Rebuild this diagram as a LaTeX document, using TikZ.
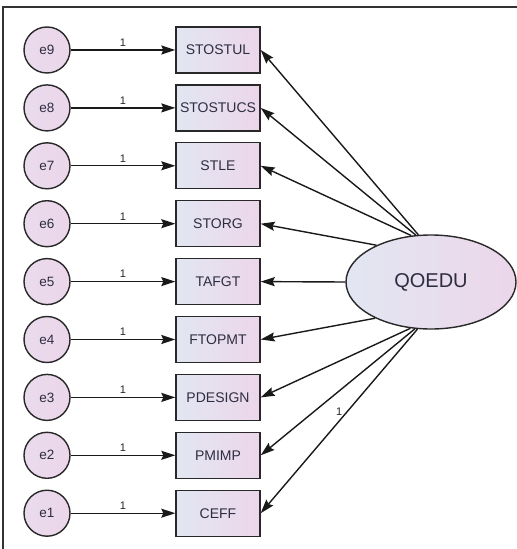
\documentclass[tikz,border=0pt]{standalone}
\usepackage{fontspec}
\setmainfont{Liberation Sans}
\usetikzlibrary{arrows.meta,shapes.geometric}
\definecolor{lineC}{RGB}{40,40,40}
\definecolor{txtC}{RGB}{45,45,65}
\definecolor{fillL}{RGB}{226,230,242}
\definecolor{fillR}{RGB}{236,214,234}
\tikzset{
  errnode/.style={circle,draw=lineC,line width=1.4bp,minimum size=46bp,inner sep=0pt,
    left color=fillR!70!fillL,right color=fillR,text=txtC,font=\fontsize{13.5bp}{15bp}\selectfont},
  obsnode/.style={rectangle,draw=lineC,line width=1.4bp,minimum width=84bp,minimum height=46bp,inner sep=0pt,
    left color=fillL,right color=fillR,text=txtC,font=\fontsize{14bp}{15bp}\selectfont},
  latnode/.style={ellipse,draw=lineC,line width=1.4bp,minimum width=170bp,minimum height=94bp,inner sep=0pt,
    left color=fillL,right color=fillR,text=txtC,font=\fontsize{20bp}{22bp}\selectfont},
  conn/.style={draw=black!90,line width=1.4bp,-{Stealth[length=14bp,width=9bp,inset=2bp]}},
  wlab/.style={font=\fontsize{11bp}{12bp}\selectfont,text=black!85,inner sep=1bp},
  frame/.style={draw=black!80,line width=1.8bp}
}
\begin{document}
\begin{tikzpicture}[x=1bp,y=-1bp]
\useasboundingbox (0,0) rectangle (517,549);
\coordinate (fa) at (3,549);
\coordinate (fb) at (3,7);
\coordinate (fc) at (517,7);
\draw[frame] (fa) -- (fb) -- (fc);

\node[latnode] (q) at (431,282) {QOEDU};

\foreach \i/\name [count=\k from 0] in {9/STOSTUL,8/STOSTUCS,7/STLE,6/STORG,5/TAFGT,4/FTOPMT,3/PDESIGN,2/PMIMP,1/CEFF}{
  \node[errnode] (e\i) at (47,{50+57.9*\k}) {e\i};
  \node[obsnode] (b\i) at (218,{50+57.9*\k}) {\name};
  \draw[conn] (e\i) -- node[wlab,above,yshift=2bp] {1} (b\i);
}

\draw[conn] (q.105.5) -- (b9.east);
\draw[conn] (q.108.8) -- (b8.east);
\draw[conn] (q.113.5) -- (b7.east);
\draw[conn] (q.146.8) -- (b6.east);
\draw[conn] (q.180) -- (b5.east);
\draw[conn] (q.213.2) -- (b4.east);
\draw[conn] (q.246.5) -- (b3.east);
\draw[conn] (q.251.2) -- (b2.east);
\draw[conn] (q.254.5) -- node[wlab,pos=0.45,left,xshift=-3bp] {1} (b1.east);
\end{tikzpicture}
\end{document}
